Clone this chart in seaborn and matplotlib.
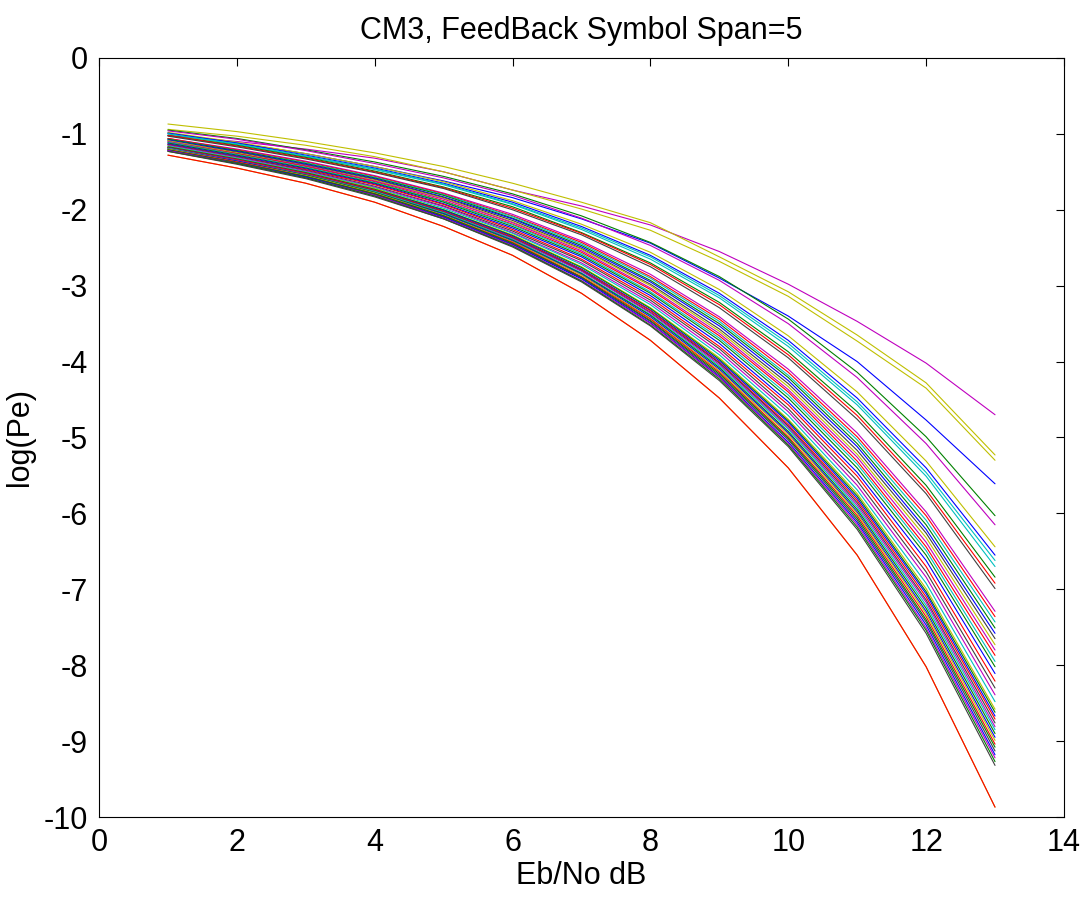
import pandas as pd
import seaborn as sns
from matplotlib import pyplot as plt

snr_db = [1, 2, 3, 4, 5, 6, 7, 8, 9, 10, 11, 12, 13]

# the few curves that sit well above the rest
pe_top_magenta = [-1.02, -1.10, -1.20, -1.32, -1.50, -1.74, -1.95, -2.20, -2.55, -2.98, -3.47, -4.02, -4.70]
pe_top_yellow1 = [-0.87, -0.97, -1.10, -1.25, -1.43, -1.65, -1.90, -2.17, -2.62, -3.08, -3.65, -4.28, -5.23]
pe_top_yellow2 = [-0.94, -1.03, -1.15, -1.30, -1.50, -1.74, -1.99, -2.27, -2.68, -3.14, -3.73, -4.35, -5.30]
pe_top_blue = [-0.99, -1.12, -1.26, -1.43, -1.62, -1.84, -2.12, -2.44, -2.90, -3.40, -4.00, -4.77, -5.61]

# middle group (ends between -6 and -7.3)
pe_middle = [
    [-0.95, -1.06, -1.21, -1.37, -1.56, -1.79, -2.08, -2.43, -2.88, -3.44, -4.14, -4.99, -6.03],
    [-0.96, -1.07, -1.22, -1.39, -1.58, -1.81, -2.11, -2.47, -2.93, -3.50, -4.21, -5.08, -6.15],
    [-0.98, -1.11, -1.26, -1.43, -1.63, -1.88, -2.19, -2.56, -3.05, -3.66, -4.40, -5.31, -6.44],
    [-0.99, -1.12, -1.28, -1.45, -1.65, -1.90, -2.22, -2.60, -3.10, -3.72, -4.48, -5.40, -6.55],
    [-1.00, -1.13, -1.29, -1.46, -1.66, -1.92, -2.24, -2.62, -3.13, -3.76, -4.53, -5.46, -6.62],
    [-1.00, -1.14, -1.30, -1.47, -1.67, -1.93, -2.26, -2.65, -3.16, -3.80, -4.57, -5.51, -6.70],
    [-1.02, -1.15, -1.31, -1.49, -1.70, -1.96, -2.30, -2.70, -3.22, -3.87, -4.66, -5.63, -6.84],
    [-1.02, -1.16, -1.32, -1.50, -1.71, -1.98, -2.31, -2.72, -3.25, -3.91, -4.71, -5.69, -6.92],
    [-1.03, -1.17, -1.33, -1.51, -1.72, -2.00, -2.33, -2.75, -3.29, -3.95, -4.76, -5.74, -6.99],
    [-1.06, -1.20, -1.36, -1.55, -1.78, -2.06, -2.41, -2.85, -3.41, -4.10, -4.94, -5.98, -7.29],
]
middle_colors = ["g", "m", "y", "b", "c", "c", "g", "r", "k", "m"]

# dense bundle (ends between -7.3 and -9.3)
pe_bundle = [
    [-1.06, -1.21, -1.37, -1.56, -1.79, -2.08, -2.43, -2.88, -3.44, -4.14, -4.99, -6.03, -7.36],
    [-1.07, -1.22, -1.38, -1.57, -1.80, -2.09, -2.45, -2.90, -3.47, -4.18, -5.03, -6.09, -7.43],
    [-1.07, -1.22, -1.39, -1.58, -1.81, -2.11, -2.47, -2.93, -3.50, -4.21, -5.08, -6.15, -7.51],
    [-1.08, -1.23, -1.40, -1.59, -1.83, -2.12, -2.49, -2.95, -3.53, -4.25, -5.12, -6.21, -7.58],
    [-1.09, -1.24, -1.41, -1.60, -1.84, -2.14, -2.51, -2.98, -3.57, -4.29, -5.17, -6.26, -7.65],
    [-1.09, -1.25, -1.42, -1.61, -1.85, -2.16, -2.52, -3.00, -3.60, -4.33, -5.22, -6.32, -7.73],
    [-1.10, -1.26, -1.42, -1.62, -1.86, -2.17, -2.54, -3.03, -3.63, -4.37, -5.26, -6.38, -7.80],
    [-1.11, -1.26, -1.43, -1.63, -1.88, -2.19, -2.56, -3.05, -3.66, -4.40, -5.31, -6.44, -7.87],
    [-1.11, -1.27, -1.44, -1.64, -1.89, -2.20, -2.58, -3.08, -3.69, -4.44, -5.35, -6.49, -7.95],
    [-1.12, -1.28, -1.45, -1.65, -1.90, -2.22, -2.60, -3.10, -3.72, -4.48, -5.40, -6.55, -8.02],
    [-1.13, -1.29, -1.46, -1.66, -1.92, -2.24, -2.62, -3.13, -3.76, -4.53, -5.46, -6.62, -8.11],
    [-1.14, -1.30, -1.47, -1.67, -1.93, -2.26, -2.65, -3.16, -3.80, -4.57, -5.51, -6.70, -8.21],
    [-1.14, -1.30, -1.48, -1.69, -1.95, -2.28, -2.67, -3.19, -3.83, -4.62, -5.57, -6.77, -8.30],
    [-1.15, -1.31, -1.49, -1.70, -1.96, -2.30, -2.70, -3.22, -3.87, -4.66, -5.63, -6.84, -8.39],
    [-1.16, -1.32, -1.50, -1.71, -1.98, -2.31, -2.72, -3.25, -3.91, -4.71, -5.69, -6.92, -8.48],
    [-1.17, -1.33, -1.51, -1.72, -2.00, -2.33, -2.75, -3.29, -3.95, -4.76, -5.74, -6.99, -8.58],
    [-1.17, -1.33, -1.51, -1.73, -2.00, -2.34, -2.76, -3.30, -3.97, -4.78, -5.77, -7.03, -8.62],
    [-1.18, -1.34, -1.52, -1.74, -2.01, -2.35, -2.78, -3.32, -3.99, -4.80, -5.80, -7.06, -8.67],
    [-1.18, -1.34, -1.52, -1.74, -2.02, -2.36, -2.79, -3.33, -4.01, -4.83, -5.83, -7.10, -8.71],
    [-1.18, -1.35, -1.53, -1.75, -2.03, -2.37, -2.80, -3.35, -4.02, -4.85, -5.86, -7.14, -8.76],
    [-1.19, -1.35, -1.53, -1.76, -2.04, -2.38, -2.81, -3.36, -4.04, -4.87, -5.89, -7.17, -8.81],
    [-1.19, -1.36, -1.54, -1.76, -2.04, -2.39, -2.83, -3.38, -4.06, -4.89, -5.92, -7.21, -8.85],
    [-1.20, -1.36, -1.54, -1.77, -2.05, -2.40, -2.84, -3.39, -4.08, -4.92, -5.95, -7.25, -8.90],
    [-1.20, -1.36, -1.55, -1.78, -2.06, -2.41, -2.85, -3.41, -4.10, -4.94, -5.98, -7.29, -8.95],
    [-1.20, -1.37, -1.55, -1.78, -2.07, -2.42, -2.86, -3.43, -4.12, -4.96, -6.00, -7.32, -8.99],
    [-1.21, -1.37, -1.56, -1.79, -2.08, -2.43, -2.88, -3.44, -4.14, -4.99, -6.03, -7.36, -9.04],
    [-1.21, -1.38, -1.56, -1.79, -2.08, -2.44, -2.89, -3.46, -4.16, -5.01, -6.06, -7.40, -9.08],
    [-1.22, -1.38, -1.57, -1.80, -2.09, -2.45, -2.90, -3.47, -4.18, -5.03, -6.09, -7.43, -9.13],
    [-1.22, -1.39, -1.57, -1.81, -2.10, -2.46, -2.91, -3.49, -4.20, -5.06, -6.12, -7.47, -9.18],
    [-1.22, -1.39, -1.58, -1.81, -2.11, -2.47, -2.93, -3.50, -4.21, -5.08, -6.15, -7.51, -9.22],
    [-1.23, -1.39, -1.58, -1.82, -2.12, -2.48, -2.94, -3.52, -4.23, -5.10, -6.18, -7.54, -9.27],
    [-1.23, -1.40, -1.59, -1.83, -2.12, -2.49, -2.95, -3.53, -4.25, -5.12, -6.21, -7.58, -9.32],
]
bundle_colors = ["r", "c", "g", "b", "k", "y", "m", "r", "c", "g",
                 "b", "r", "k", "m", "c", "y", "g", "b", "r", "k",
                 "m", "c", "g", "b", "y", "r", "g", "k", "b", "m",
                 "g", "k"]

# bottom pair, practically on top of each other
pe_lowest = [-1.28, -1.45, -1.65, -1.90, -2.22, -2.60, -3.10, -3.72, -4.48, -5.40, -6.55, -8.02, -9.87]

# old MATLAB colour order
matlab_rgb = {
    "b": (0, 0, 1), "g": (0, 0.5, 0), "r": (1, 0, 0), "c": (0, 0.75, 0.75),
    "m": (0.75, 0, 0.75), "y": (0.75, 0.75, 0), "k": (0.25, 0.25, 0.25),
}

all_curves = ([pe_top_magenta, pe_top_yellow1, pe_top_yellow2, pe_top_blue]
              + pe_middle + pe_bundle + [pe_lowest, pe_lowest])
all_colors = ["m", "y", "y", "b"] + middle_colors + bundle_colors + ["y", "r"]

rows = []
for i, curve in enumerate(all_curves):
    for x, v in zip(snr_db, curve):
        rows.append({"snr": x, "logpe": v, "curve": f"c{i:02d}"})
df = pd.DataFrame(rows)
palette = [matlab_rgb[c] for c in all_colors]

sns.set_style("white")
plt.rcParams["font.family"] = ["Liberation Sans", "DejaVu Sans"]
plt.rcParams["axes.unicode_minus"] = False
plt.rcParams["text.color"] = "black"
plt.rcParams["axes.labelcolor"] = "black"

fig = plt.figure(figsize=(10.89, 8.99), dpi=100)
ax = fig.add_axes([0.0909, 0.0912, 0.8861, 0.8443])

sns.lineplot(data=df, x="snr", y="logpe", hue="curve", palette=palette,
             legend=False, linewidth=0.8, sort=False, ax=ax)

ax.set_xlim(0, 14)
ax.set_ylim(-10, 0)
ax.set_xticks(range(0, 15, 2))
ax.set_yticks(range(-10, 1))
ax.tick_params(direction="in", length=6, width=0.8, top=True, right=True,
               labelsize=22, pad=8, colors="black")
for s in ax.spines.values():
    s.set_visible(True)
    s.set_color("black")
    s.set_linewidth(0.8)

ax.set_title("CM3, FeedBack Symbol Span=5", fontsize=22, pad=14, color="black")
ax.set_xlabel("Eb/No dB", fontsize=22, labelpad=2)
ax.set_ylabel("log(Pe)", fontsize=22, labelpad=6)

fig.savefig("out.png", dpi=100)
